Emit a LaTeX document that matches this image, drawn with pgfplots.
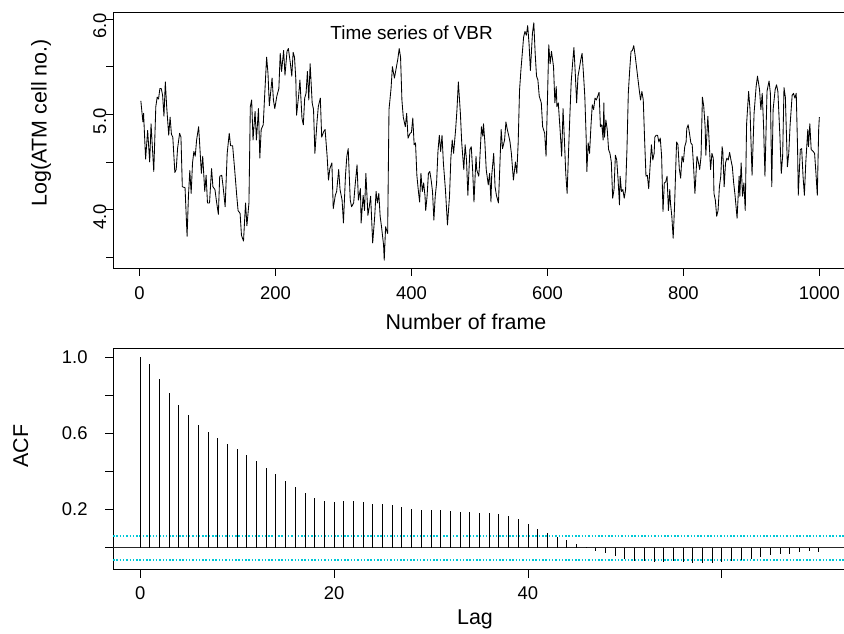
\documentclass[border=0pt]{standalone}
\usepackage{pgfplots}
\usepackage{pgfplotstable}
\pgfplotsset{compat=1.18}
\usepackage{fontspec}
\setmainfont{Liberation Sans}
\definecolor{cicol}{RGB}{0,200,215}

\pgfplotstableread{
x y
2 5.14
5 4.92
6 5.01
9 4.53
12 4.83
15 4.50
17 4.90
21 4.40
24 5.08
26 5.18
28 5.16
30 5.27
32 5.27
34 5.20
36 4.98
38 5.34
40 5.08
43 4.78
45 4.97
47 4.79
49 4.76
52 4.39
54 4.42
56 4.64
59 4.80
61 4.76
63 4.24
67 4.23
70 3.72
72 4.14
74 4.41
76 4.17
78 4.49
80 4.61
82 4.56
84 4.73
87 4.87
89 4.63
91 4.38
93 4.56
96 4.19
98 4.36
100 4.07
103 4.07
106 4.43
108 4.24
111 4.21
113 4.10
116 3.95
118 4.35
121 4.36
123 4.24
126 4.03
129 4.59
132 4.80
134 4.67
137 4.67
140 4.42
143 4.15
145 3.99
148 3.96
150 3.73
153 3.67
156 4.07
158 3.83
161 4.07
163 5.08
165 5.15
167 4.73
170 5.03
172 4.73
175 5.06
177 4.54
179 4.84
182 4.89
184 5.18
187 5.60
189 5.43
191 5.09
195 5.38
197 5.15
199 5.06
202 5.19
205 5.27
207 5.64
209 5.45
212 5.67
214 5.41
217 5.66
219 5.69
222 5.53
224 5.40
226 5.65
228 5.60
230 5.36
231 4.99
234 5.19
236 5.36
239 4.96
241 4.89
243 5.17
245 5.22
247 5.45
249 5.15
251 5.53
254 5.12
256 5.05
258 4.59
261 4.91
263 5.08
266 5.17
268 4.76
271 4.82
273 4.84
276 4.56
278 4.31
280 4.43
283 4.49
285 4.01
288 4.15
290 4.19
293 4.42
295 4.21
298 4.10
300 3.86
303 4.36
305 4.56
307 4.64
310 4.10
312 4.03
315 4.07
317 4.24
320 4.47
322 4.10
325 4.22
326 3.86
329 4.15
331 3.99
333 4.38
336 3.94
338 4.03
340 4.14
343 3.65
346 3.93
348 4.19
350 4.07
352 4.17
354 3.93
356 3.82
359 3.63
360 3.47
362 3.82
365 3.75
367 5.05
370 5.27
372 5.50
375 5.38
377 5.46
380 5.58
382 5.69
384 5.60
386 5.15
388 4.97
391 4.87
393 5.01
395 4.75
398 4.80
400 4.81
402 4.96
404 4.68
406 4.70
408 4.36
410 4.21
412 4.08
414 4.38
416 4.19
418 4.28
420 4.14
421 3.99
423 4.14
425 4.38
427 4.40
429 4.31
431 4.19
433 3.89
435 4.14
437 4.28
439 4.61
441 4.78
443 4.61
445 4.78
447 4.49
450 4.21
453 3.84
456 4.14
458 4.54
460 4.73
462 4.59
465 4.84
467 5.05
469 5.34
472 5.01
474 4.70
477 4.42
479 4.68
481 4.52
483 4.15
486 4.63
488 4.66
490 4.42
492 4.08
495 4.56
496 4.42
499 4.35
500 4.45
503 4.87
505 4.77
506 4.90
508 4.71
510 4.42
513 4.26
515 4.38
517 4.08
518 4.35
521 4.59
523 4.24
525 4.15
528 4.07
530 4.45
532 4.84
534 4.64
537 4.73
539 4.92
541 4.84
543 4.78
545 4.71
547 4.59
550 4.31
553 4.50
555 4.38
557 4.70
559 5.25
561 5.46
565 5.81
567 5.87
569 5.83
571 5.93
573 5.74
575 5.46
578 5.85
580 5.96
582 5.64
584 5.40
586 5.36
588 5.19
591 5.12
593 4.87
596 4.80
598 4.56
600 5.13
602 5.73
604 5.53
606 5.66
609 5.50
611 5.12
613 5.29
614 5.08
616 5.12
619 4.80
621 4.56
623 5.06
625 4.73
627 4.38
629 4.17
631 4.59
633 4.98
635 5.34
637 5.53
639 5.70
641 5.43
643 5.12
645 5.40
647 5.48
649 5.57
651 5.64
653 5.43
655 5.19
657 4.76
658 4.40
660 4.70
662 4.59
664 4.87
666 5.10
668 5.05
670 5.17
672 5.15
674 5.19
676 5.23
678 4.87
680 4.89
682 4.73
683 5.12
684 4.76
686 4.94
688 4.84
690 4.63
692 4.59
694 4.50
696 4.12
698 4.21
700 4.57
702 4.52
704 4.31
706 4.05
707 4.35
709 4.19
711 4.21
713 4.12
715 4.21
717 4.63
719 5.22
721 5.46
723 5.66
725 5.67
727 5.72
729 5.62
731 5.50
733 5.38
735 5.26
737 5.15
739 5.24
741 5.15
743 4.73
745 4.35
747 4.36
749 4.22
751 4.45
753 4.68
755 4.52
757 4.59
758 4.76
760 4.78
762 4.78
764 4.71
766 4.75
768 4.56
770 3.98
772 4.28
774 4.29
776 4.35
778 3.99
780 4.21
781 4.07
783 3.93
785 3.70
787 4.03
789 4.49
790 4.71
792 4.68
794 4.43
796 4.33
798 4.56
800 4.50
802 4.66
804 4.71
805 4.85
807 4.89
809 4.80
811 4.70
813 4.68
815 4.45
817 4.17
820 4.56
822 4.50
824 4.42
826 4.56
828 5.18
830 5.08
832 4.87
833 4.57
836 4.98
838 4.70
840 4.42
842 4.59
844 4.54
845 4.17
847 4.10
849 3.93
851 3.99
853 4.24
855 4.35
857 4.66
858 4.61
860 4.24
862 4.49
864 4.54
866 4.52
868 4.60
870 4.52
872 4.45
874 4.28
876 4.15
879 3.91
882 4.35
883 4.14
885 4.49
887 4.14
889 4.28
891 3.99
893 4.90
896 5.24
898 5.05
901 4.36
904 5.01
907 5.29
909 5.40
912 5.26
914 5.05
916 5.22
918 4.87
920 4.35
923 5.24
926 5.35
928 5.22
930 4.24
932 5.05
935 5.26
937 5.31
939 5.24
942 4.77
944 4.38
946 4.56
948 5.28
950 5.18
953 4.45
955 4.59
957 4.89
960 5.20
962 5.22
964 5.17
966 5.22
968 4.63
969 4.15
972 4.63
974 4.64
976 4.35
978 4.15
980 4.49
983 4.84
984 4.66
986 4.90
988 4.63
991 4.61
993 4.59
995 4.38
997 4.15
999 4.84
1000 4.97
}\tsdata

\pgfplotstableread{
lag acf
0 1.000
1 0.961
2 0.886
3 0.811
4 0.746
5 0.694
6 0.646
7 0.606
8 0.573
9 0.543
10 0.517
11 0.487
12 0.454
13 0.420
14 0.384
15 0.350
16 0.319
17 0.285
18 0.259
19 0.247
20 0.242
21 0.243
22 0.243
23 0.238
24 0.231
25 0.228
26 0.222
27 0.214
28 0.203
29 0.198
30 0.196
31 0.196
32 0.193
33 0.189
34 0.187
35 0.182
36 0.180
37 0.177
38 0.168
39 0.149
40 0.123
41 0.098
42 0.079
43 0.058
44 0.039
45 0.019
46 0.002
47 -0.016
48 -0.026
49 -0.042
50 -0.058
51 -0.068
52 -0.072
53 -0.074
54 -0.074
55 -0.072
56 -0.077
57 -0.079
58 -0.081
59 -0.079
60 -0.074
61 -0.072
62 -0.067
63 -0.058
64 -0.047
65 -0.040
66 -0.035
67 -0.032
68 -0.025
69 -0.019
70 -0.021
}\acfdata

\begin{document}
\begin{tikzpicture}[x=1bp,y=1bp]
\useasboundingbox (0,0) rectangle (844,634);
\pgfplotsset{
  rstyle/.style={
    scale only axis, anchor=south west,
    axis line style={line width=1bp},
    tick align=outside, xtick pos=bottom, ytick pos=left,
    tick style={line width=0.9bp, black},
    xticklabel style={font=\fontsize{18.5}{20}\selectfont, anchor=base, inner sep=0pt},
    yticklabel style={font=\fontsize{18.5}{20}\selectfont, inner sep=0pt},
  }
}
\begin{axis}[rstyle,
  at={(113bp,365bp)},
  width=733.5bp, height=256bp,
  xmin=-38.96, xmax=1039.96, ymin=3.377, ymax=6.063,
  major tick length=7bp,
  xtick={0,200,400,600,800,1000}, xticklabels={0,200,400,600,800,1000},
  ytick={3.5,4,4.5,5,5.5,6}, yticklabels={,4.0,,5.0,,6.0},
  xticklabel style={yshift=-23.3bp},
  yticklabel style={rotate=90, anchor=base, xshift=-7bp},
]
\addplot[black, line width=0.85bp, line join=round] table[x=x,y=y] {\tsdata};
\node[font=\fontsize{19}{21}\selectfont, anchor=base] at (axis cs:400.3,5.78) {Time series of VBR};
\end{axis}

\begin{axis}[rstyle,
  at={(113bp,64bp)},
  width=733bp, height=221bp,
  xmin=-2.8, xmax=72.8, ymin=-0.117, ymax=1.042,
  major tick length=8bp,
  xtick={0,20,40,60}, xticklabels={0,20,40,{}},
  ytick={0,0.2,0.4,0.6,0.8,1.0}, yticklabels={,0.2,,0.6,,1.0},
  xticklabel style={yshift=-22bp},
  yticklabel style={anchor=east, xshift=-17.3bp},
]
\addplot[black!85, line width=0.9bp] coordinates {(-2.8,0) (72.8,0)};
\addplot[cicol, line width=1.6bp, dash pattern=on 1.5bp off 1.8bp] coordinates {(-2.8,0.062) (72.8,0.062)};
\addplot[cicol, line width=1.6bp, dash pattern=on 1.5bp off 1.8bp] coordinates {(-2.8,-0.064) (72.8,-0.064)};
\addplot[ycomb, black, line width=0.9bp, no marks] table[x=lag,y=acf] {\acfdata};
\end{axis}

\node[font=\fontsize{21.5}{24}\selectfont, anchor=base] at (466,304.7) {Number of frame};
\node[font=\fontsize{21.5}{24}\selectfont, anchor=base] at (475,9) {Lag};
\node[font=\fontsize{21.5}{24}\selectfont, rotate=90, anchor=base] at (46.5,511) {Log(ATM cell no.)};
\node[font=\fontsize{21.5}{24}\selectfont, rotate=90, anchor=base] at (28,188) {ACF};
\end{tikzpicture}
\end{document}
